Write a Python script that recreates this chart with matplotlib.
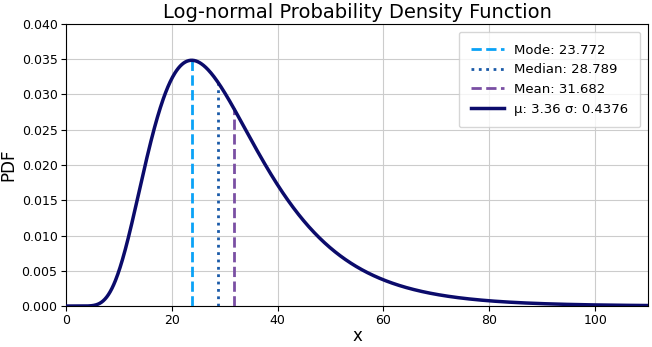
import numpy as np
import matplotlib.pyplot as plt

# parameters
mu = 3.36
sigma = 0.4376

stat_names = ['Mode', 'Median', 'Mean']
stat_values = [23.772, 28.789, 31.682]
stat_colors = ['#0aa2f7', '#1a5aa8', '#7a4fa3']
stat_styles = ['--', ':', '--']

x_ticks = [0, 20, 40, 60, 80, 100]
y_ticks = [0.0, 0.005, 0.010, 0.015, 0.020, 0.025, 0.030, 0.035, 0.040]


def lognorm_pdf(x, mu, sigma):
    return np.exp(-(np.log(x) - mu) ** 2 / (2 * sigma ** 2)) / (x * sigma * np.sqrt(2 * np.pi))


x = np.linspace(0.01, 110, 1000)
pdf = lognorm_pdf(x, mu, sigma)

fig = plt.figure(figsize=(6.52, 3.47), dpi=100)
ax = fig.add_axes([0.101, 0.118, 0.893, 0.813])

for name, val, col, ls in zip(stat_names, stat_values, stat_colors, stat_styles):
    ax.vlines(val, 0, lognorm_pdf(val, mu, sigma), colors=col, linestyles=ls,
              linewidth=2, label='%s: %.3f' % (name, val), zorder=3)

ax.plot(x, pdf, color='#0b0b6b', linewidth=2.5, label='µ: %s σ: %s' % (mu, sigma), zorder=4)

ax.set_xlim(0, 110)
ax.set_ylim(0, 0.04)
ax.set_xticks(x_ticks)
ax.set_yticks(y_ticks)
ax.set_yticklabels(['%.3f' % t for t in y_ticks])
ax.tick_params(labelsize=9, length=3.5, pad=2.5)
ax.grid(True, color='#cccccc', linewidth=0.8)

ax.set_title('Log-normal Probability Density Function', fontsize=14, pad=4)
ax.set_xlabel('x', fontsize=12, labelpad=0)
ax.set_ylabel('PDF', fontsize=12, labelpad=3)

ax.legend(loc='upper right', fontsize=9.5, borderpad=0.9, handlelength=2.5,
          borderaxespad=0.6)

plt.savefig('out.png', dpi=100)
